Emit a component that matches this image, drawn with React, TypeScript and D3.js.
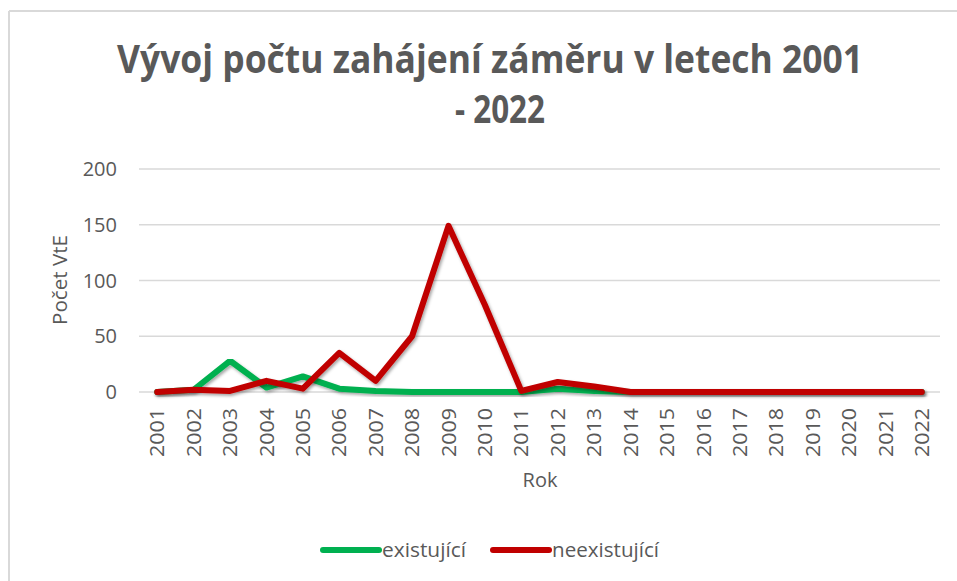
import React from 'react';
import * as d3 from 'd3';

const years = [
  '2001', '2002', '2003', '2004', '2005', '2006', '2007', '2008', '2009', '2010', '2011',
  '2012', '2013', '2014', '2015', '2016', '2017', '2018', '2019', '2020', '2021', '2022',
];
const existujici = [0, 2, 28, 4, 14, 3, 1, 0, 0, 0, 0, 3, 1, 0, 0, 0, 0, 0, 0, 0, 0, 0];
const neexistujici = [0, 2, 1, 10, 3, 35, 10, 50, 149, 78, 1, 9, 5, 0, 0, 0, 0, 0, 0, 0, 0, 0];
const yTicks = [0, 50, 100, 150, 200];

const SERIES = [
  { name: 'existující', values: existujici, color: '#00b050', legendX: 323, textLen: 84 },
  { name: 'neexistující', values: neexistujici, color: '#c00000', legendX: 493, textLen: 107 },
];

const W = 957;
const H = 581;
const FONT = '"Open Sans", Calibri, sans-serif';
const TEXT = '#595959';

export default function App() {
  const x = d3.scalePoint<string>().domain(years).range([139, 940]).padding(0.5);
  const y = d3.scaleLinear().domain([0, 200]).range([392, 169]);

  const line = d3
    .line<number>()
    .x((_, i) => x(years[i]) as number)
    .y((d) => y(d));

  return (
    <div>
      <style>{'body{margin:0}'}</style>
      <svg width={W} height={H} style={{ display: 'block', background: '#fff' }}>
        <defs>
          <filter id="shadow" x="-5%" y="-5%" width="110%" height="120%">
            <feDropShadow dx="1.5" dy="2" stdDeviation="1.5" floodColor="#000" floodOpacity="0.35" />
          </filter>
        </defs>

        {/* chart area border (only top/left visible) */}
        <line x1={9} x2={W} y1={11} y2={11} stroke="#d9d9d9" strokeWidth={2} />
        <line x1={9} x2={9} y1={11} y2={H} stroke="#d9d9d9" strokeWidth={2} />

        {/* title */}
        <text x={490} y={73} textAnchor="middle" fontFamily={FONT} fontWeight="bold" fontSize={39}
          fill={TEXT} textLength={746} lengthAdjust="spacingAndGlyphs">
          Vývoj počtu zahájení záměru v letech 2001
        </text>
        <text x={500} y={123} textAnchor="middle" fontFamily={FONT} fontWeight="bold" fontSize={39}
          fill={TEXT} textLength={90} lengthAdjust="spacingAndGlyphs">
          - 2022
        </text>

        {/* grid */}
        {yTicks.map((t) => (
          <g key={t}>
            <line x1={139} x2={940} y1={y(t)} y2={y(t)} stroke="#d9d9d9" strokeWidth={1.5} />
            <text x={117} y={y(t)} dy="0.36em" textAnchor="end" fontFamily={FONT} fontSize={20} fill={TEXT}>
              {t}
            </text>
          </g>
        ))}

        {/* x tick labels */}
        {years.map((yr) => (
          <text key={yr} transform={`translate(${x(yr)},408) rotate(-90)`} textAnchor="end" dy="0.36em"
            fontFamily={FONT} fontSize={20} fill={TEXT} textLength={49} lengthAdjust="spacingAndGlyphs">
            {yr}
          </text>
        ))}

        {/* axis titles */}
        <text x={540} y={487} textAnchor="middle" fontFamily={FONT} fontSize={20} fill={TEXT}>
          Rok
        </text>
        <text transform="translate(60,280) rotate(-90)" textAnchor="middle" dy="0.36em"
          fontFamily={FONT} fontSize={20} fill={TEXT} textLength={90} lengthAdjust="spacingAndGlyphs">
          Počet VtE
        </text>

        {/* series */}
        {SERIES.map((s) => (
          <path key={s.name} d={line(s.values) || ''} fill="none" stroke={s.color} strokeWidth={6}
            strokeLinejoin="round" strokeLinecap="round" filter="url(#shadow)" />
        ))}

        {/* legend */}
        {SERIES.map((s) => (
          <g key={s.name}>
            <line x1={s.legendX} x2={s.legendX + 56} y1={550} y2={550} stroke={s.color} strokeWidth={6}
              strokeLinecap="round" />
            <text x={s.legendX + 59} y={550} dy="0.36em" fontFamily={FONT} fontSize={20} fill={TEXT}
              textLength={s.textLen} lengthAdjust="spacingAndGlyphs">
              {s.name}
            </text>
          </g>
        ))}
      </svg>
    </div>
  );
}
